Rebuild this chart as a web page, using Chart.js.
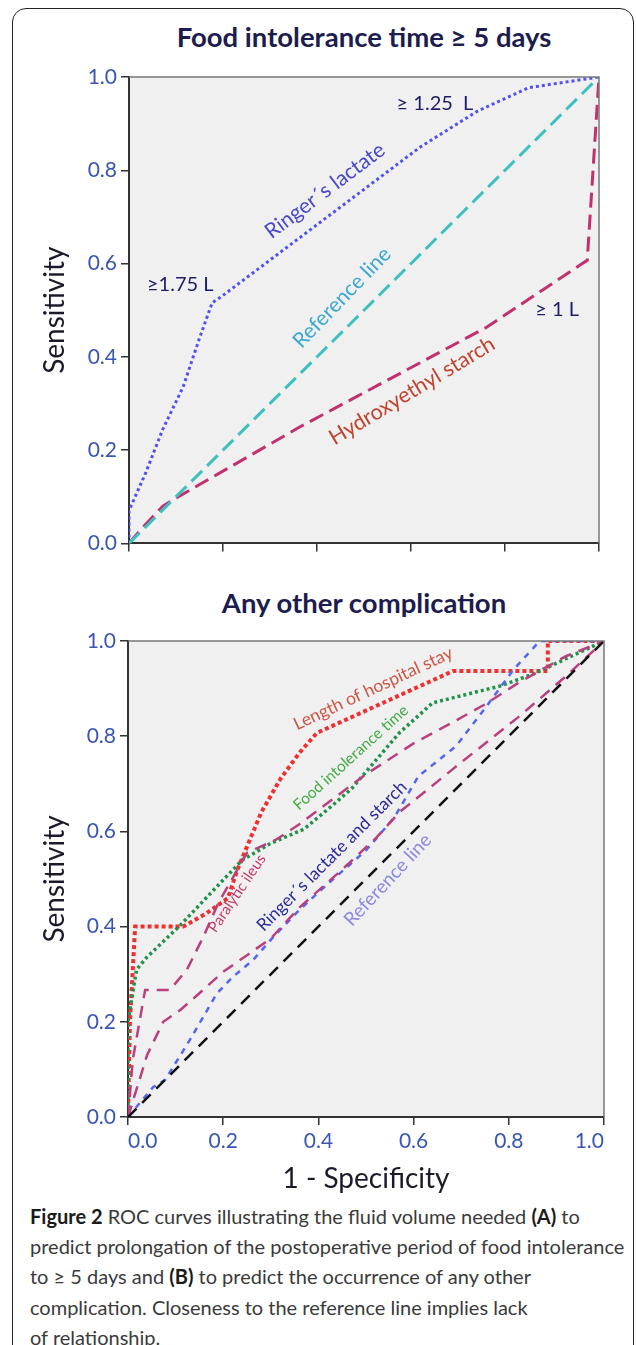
<!DOCTYPE html>
<html>
<head>
<meta charset="utf-8">
<script src="https://cdn.jsdelivr.net/npm/chart.js@4"></script>
<style>
  html, body { margin: 0; padding: 0; background: #fff; }
  body { width: 636px; height: 1345px; position: relative; overflow: hidden; font-family: 'Lato', sans-serif; }
  .frame { position: absolute; left: 12px; top: 8px; width: 620px; height: 1400px; border: 1.5px solid #222; border-radius: 14px; }
  .title { position: absolute; left: 0; width: 728px; text-align: center; font-weight: bold; font-size: 27.5px; line-height: 30px; color: #1c1c4e; }
  .panel { position: absolute; left: 0; width: 636px; }
  .caption { position: absolute; left: 30px; top: 1201px; font-size: 20px; line-height: 30.2px; color: #3a3a3a; white-space: nowrap; }
  .caption b { color: #1a1a1a; }
</style>
</head>
<body>
<div class="frame"></div>
<div class="title" style="top:22px">Food intolerance time ≥ 5 days</div>
<div class="panel" style="top:60px;height:500px"><canvas id="chartA"></canvas></div>
<div class="title" style="top:588px">Any other complication</div>
<div class="panel" style="top:620px;height:580px"><canvas id="chartB"></canvas></div>
<div class="caption"><b>Figure 2</b> ROC curves illustrating the fluid volume needed <b>(A)</b> to<br>predict prolongation of the postoperative period of food intolerance<br>to ≥ 5 days and <b>(B)</b> to predict the occurrence of any other<br>complication. Closeness to the reference line implies lack<br>of relationship.</div>

<script>
// axis ticks
const tickValues = [0, 0.2, 0.4, 0.6, 0.8, 1.0];

// Panel A: food intolerance time >= 5 days
const ringerAx = [0, 0, 0.035, 0.072, 0.115, 0.15, 0.177, 0.195, 0.62, 0.74, 0.85, 1];
const ringerAy = [0, 0.07, 0.15, 0.245, 0.335, 0.44, 0.516, 0.528, 0.85, 0.926, 0.977, 1];
const starchAx = [0, 0.03, 0.072, 0.105, 0.364, 0.76, 0.975, 1];
const starchAy = [0, 0.035, 0.08, 0.1, 0.25, 0.463, 0.607, 1];
const refAx = [0, 1];
const refAy = [0, 1];

// Panel B: any other complication
const stayBx = [0, 0.004, 0.015, 0.116, 0.165, 0.21, 0.23, 0.28, 0.32, 0.36, 0.397, 0.683, 0.882, 0.882, 1];
const stayBy = [0, 0.2, 0.4, 0.4, 0.428, 0.46, 0.52, 0.64, 0.71, 0.765, 0.807, 0.937, 0.937, 1, 1];
const foodBx = [0, 0, 0.018, 0.04, 0.11, 0.2, 0.24, 0.3, 0.37, 0.43, 0.47, 0.57, 0.64, 0.78, 0.85, 1];
const foodBy = [0, 0.2, 0.31, 0.336, 0.403, 0.498, 0.54, 0.575, 0.605, 0.655, 0.69, 0.807, 0.87, 0.905, 0.93, 1];
const ileusBx = [0, 0.01, 0.036, 0.088, 0.124, 0.158, 0.19, 0.25, 0.31, 0.36, 0.5, 0.6, 0.68, 0.75, 0.82, 0.92, 1];
const ileusBy = [0, 0.12, 0.267, 0.267, 0.31, 0.378, 0.45, 0.555, 0.582, 0.615, 0.72, 0.785, 0.828, 0.867, 0.912, 0.968, 1];
const starchBx = [0, 0.04, 0.074, 0.11, 0.15, 0.2, 0.25, 0.3, 0.36, 0.45, 0.52, 0.57, 0.7, 0.82, 0.92, 1];
const starchBy = [0, 0.13, 0.2, 0.225, 0.26, 0.305, 0.34, 0.375, 0.44, 0.52, 0.585, 0.64, 0.745, 0.84, 0.926, 1];
const ringerBx = [0, 0.053, 0.078, 0.13, 0.187, 0.22, 0.263, 0.305, 0.36, 0.42, 0.5, 0.56, 0.61, 0.69, 0.754, 0.81, 0.865, 1];
const ringerBy = [0, 0.063, 0.078, 0.162, 0.26, 0.294, 0.33, 0.378, 0.435, 0.49, 0.56, 0.63, 0.716, 0.78, 0.864, 0.94, 1, 1];
const refBx = [0, 1];
const refBy = [0, 1];

Chart.defaults.font.family = 'Lato';

function pts(xs, ys) {
    return xs.map((x, i) => ({x: x, y: ys[i]}));
}

function line(xs, ys, color, dash, width) {
    return {
        data: pts(xs, ys),
        showLine: true,
        borderColor: color,
        borderDash: dash,
        borderWidth: width,
        pointRadius: 0,
        tension: 0,
        fill: false
    };
}

// grey plot background and the thin top/right frame
const panelBackground = {
    id: 'panelBackground',
    beforeDraw(chart) {
        const a = chart.chartArea, ctx = chart.ctx;
        ctx.save();
        ctx.fillStyle = '#f0f0f0';
        ctx.fillRect(a.left, a.top, a.right - a.left, a.bottom - a.top);
        ctx.restore();
    },
    afterDatasetsDraw(chart) {
        const a = chart.chartArea, ctx = chart.ctx;
        ctx.save();
        ctx.strokeStyle = '#777';
        ctx.lineWidth = 1.5;
        ctx.beginPath();
        ctx.moveTo(a.left, a.top);
        ctx.lineTo(a.right, a.top);
        ctx.lineTo(a.right, a.bottom);
        ctx.stroke();
        ctx.restore();
    }
};

// text written along the curves
const curveLabels = {
    id: 'curveLabels',
    afterDatasetsDraw(chart, args, opts) {
        const ctx = chart.ctx;
        (opts.items || []).forEach(it => {
            const px = chart.scales.x.getPixelForValue(it.x);
            const py = chart.scales.y.getPixelForValue(it.y);
            ctx.save();
            ctx.translate(px, py);
            ctx.rotate(it.angle * Math.PI / 180);
            ctx.font = it.size + 'px Lato';
            ctx.fillStyle = it.color;
            ctx.textAlign = 'center';
            ctx.textBaseline = 'middle';
            ctx.fillText(it.text, 0, 0);
            ctx.restore();
        });
    }
};

function makeOptions(cfg) {
    return {
        responsive: true,
        maintainAspectRatio: false,
        animation: false,
        layout: { padding: { left: 0, top: cfg.padTop, right: cfg.padRight, bottom: 0 } },
        plugins: {
            legend: { display: false },
            tooltip: { enabled: false },
            curveLabels: { items: cfg.labels }
        },
        scales: {
            x: {
                type: 'linear',
                min: 0, max: 1,
                afterBuildTicks: s => { s.ticks = tickValues.map(v => ({value: v})); },
                afterFit: s => { s.height = cfg.xHeight; },
                border: { color: '#333', width: 2 },
                grid: { drawOnChartArea: false, color: '#333', lineWidth: 1.5, tickLength: 8 },
                ticks: {
                    display: cfg.xLabels,
                    align: 'inner',
                    padding: 4,
                    color: '#3a56b4',
                    font: { size: 21 },
                    callback: v => v.toFixed(1)
                },
                title: {
                    display: cfg.xLabels,
                    text: '1 - Specificity',
                    color: '#1a1a2a',
                    font: { size: 28 },
                    padding: { top: 0, bottom: 4 }
                }
            },
            y: {
                type: 'linear',
                min: 0, max: 1,
                afterBuildTicks: s => { s.ticks = tickValues.map(v => ({value: v})); },
                afterFit: s => { s.width = cfg.yWidth; },
                border: { color: '#333', width: 2 },
                grid: { drawOnChartArea: false, color: '#333', lineWidth: 1.5, tickLength: 8 },
                ticks: {
                    padding: 4,
                    color: '#3a56b4',
                    font: { size: 21 },
                    callback: v => v.toFixed(1)
                },
                title: {
                    display: true,
                    text: 'Sensitivity',
                    color: '#1a1a2a',
                    font: { size: 28 },
                    padding: { top: 38, bottom: 0 }
                }
            }
        }
    };
}

new Chart(document.getElementById('chartA'), {
    type: 'scatter',
    data: {
        datasets: [
            line(refAx, refAy, '#3fc0c0', [15, 7], 3),
            line(starchAx, starchAy, '#c2306e', [15, 7], 3),
            line(ringerAx, ringerAy, '#5252ee', [3, 3], 3)
        ]
    },
    options: makeOptions({
        padTop: 17, padRight: 37, xHeight: 12, yWidth: 129, xLabels: false,
        labels: [
            { text: 'Ringer´s lactate', x: 0.417, y: 0.756, angle: -37, color: '#4848c8', size: 21 },
            { text: '≥ 1.25  L', x: 0.651, y: 0.943, angle: 0, color: '#1e1e66', size: 20 },
            { text: '≥1.75 L', x: 0.109, y: 0.554, angle: 0, color: '#1e1e66', size: 20 },
            { text: 'Reference line', x: 0.453, y: 0.527, angle: -46, color: '#3ca8d0', size: 21 },
            { text: '≥ 1 L', x: 0.911, y: 0.501, angle: 0, color: '#1e1e66', size: 20 },
            { text: 'Hydroxyethyl starch', x: 0.602, y: 0.327, angle: -31, color: '#c0442e', size: 21.5 }
        ]
    }),
    plugins: [panelBackground, curveLabels]
});

new Chart(document.getElementById('chartB'), {
    type: 'scatter',
    data: {
        datasets: [
            line(refBx, refBy, '#111111', [12, 8], 2.5),
            line(starchBx, starchBy, '#b8407e', [12, 8], 2.5),
            line(ringerBx, ringerBy, '#5566ee', [6, 6], 2.5),
            line(ileusBx, ileusBy, '#b8407e', [12, 8], 2.5),
            line(foodBx, foodBy, '#22924a', [3, 3], 3.5),
            line(stayBx, stayBy, '#ee3030', [4, 3], 4)
        ]
    },
    options: makeOptions({
        padTop: 21, padRight: 32, xHeight: 83, yWidth: 128, xLabels: true,
        labels: [
            { text: 'Length of hospital stay', x: 0.515, y: 0.9, angle: -25, color: '#cc5544', size: 17.5 },
            { text: 'Food intolerance time', x: 0.468, y: 0.755, angle: -42, color: '#44aa44', size: 15.5 },
            { text: 'Ringer´s lactate and starch', x: 0.428, y: 0.548, angle: -45, color: '#2a2a9a', size: 17.5 },
            { text: 'Reference line', x: 0.546, y: 0.498, angle: -47, color: '#8a8ae0', size: 19 },
            { text: 'Paralytic ileus', x: 0.229, y: 0.47, angle: -56, color: '#c03a6a', size: 15 }
        ]
    }),
    plugins: [panelBackground, curveLabels]
});
</script>
</body>
</html>
